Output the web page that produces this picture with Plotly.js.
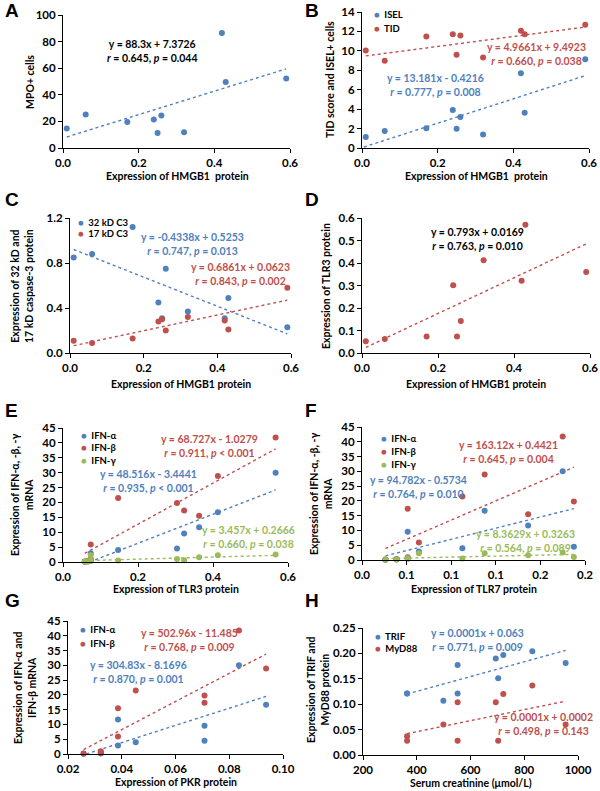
<!DOCTYPE html>
<html>
<head>
<meta charset="utf-8">
<script src="https://cdn.plot.ly/plotly-3.0.1.min.js"></script>
<style>html,body{margin:0;padding:0;background:#fff;}#chart{width:600px;height:791px;}</style>
</head>
<body>
<div id="chart"></div>
<script>
// ---------------- DATA ----------------
// Panels A-D: HMGB1 protein expression (per patient)
const hmgb1 = [0.01, 0.06, 0.17, 0.24, 0.25, 0.26, 0.32, 0.42, 0.43, 0.59];
const mpoCells = [14.6, 25.1, 19.6, 21.4, 11.3, 24.4, 11.8, 86.5, 49.7, 52.3];
const iselCells = [1.14, 1.76, 2.03, 3.9, 1.97, 3.2, 1.38, 7.69, 3.62, 9.14];
const tidScore = [10.03, 8.97, 11.48, 11.72, 9.59, 11.59, 9.31, 12.07, 11.72, 12.69];
const casp32 = [0.85, 0.88, 1.12, 0.45, 0.31, 0.75, 0.37, 0.31, 0.49, 0.23];
const casp17 = [0.11, 0.09, 0.13, 0.28, 0.30, 0.20, 0.32, 0.29, 0.21, 0.58];
const tlr3ByHmgb1 = [0.052, 0.062, 0.073, 0.301, 0.073, 0.142, 0.412, 0.321, 0.570, 0.36];

// Panels E-G: per patient (ordered by TLR3)
const tlr3 = [0.058, 0.066, 0.074, 0.074, 0.147, 0.304, 0.323, 0.363, 0.413, 0.567];
const tlr7 = [0.021, 0.031, 0.051, 0.041, 0.090, 0.190, 0.041, 0.149, 0.110, 0.180];
const pkr = [0.0258, 0.0322, 0.0386, 0.0322, 0.0452, 0.0708, 0.0708, 0.0386, 0.0937, 0.0836];
const ifnA = [0.1, 0.2, 2.9, 0.4, 4.0, 4.5, 9.6, 11.7, 16.7, 30.0];
const ifnB = [0.2, 0.3, 5.9, 0.9, 21.5, 19.8, 17.3, 15.5, 28.9, 41.8];
const ifnG = [0.1, 0.2, 2.3, 0.5, 0.5, 1.0, 0.6, 1.6, 2.3, 2.5];

// Panel H
const creatinine = [364, 364, 499, 552, 552, 694, 703, 722, 830, 954];
const trif = [0.121, 0.121, 0.107, 0.177, 0.121, 0.190, 0.151, 0.197, 0.204, 0.181];
const myd88 = [0.037, 0.028, 0.060, 0.104, 0.028, 0.104, 0.028, 0.120, 0.137, 0.060];

// Trendline end points
const trendA = {x: [0.01, 0.59], y: [8.3, 59.5]};
const trendIsel = {x: [0.005, 0.59], y: [0.1, 7.45]};
const trendTid = {x: [0.01, 0.59], y: [9.48, 12.45]};
const trend32 = {x: [0.01, 0.59], y: [0.92, 0.17]};
const trend17 = {x: [0.01, 0.59], y: [0.065, 0.47]};
const trendD = {x: [0.01, 0.59], y: [0.025, 0.485]};
const trendEa = {x: [0.071, 0.567], y: [0.0, 24.2]};
const trendEb = {x: [0.058, 0.567], y: [2.9, 38.0]};
const trendEg = {x: [0.058, 0.567], y: [0.47, 2.23]};
const trendFa = {x: [0.021, 0.190], y: [1.4, 17.4]};
const trendFb = {x: [0.021, 0.190], y: [3.9, 31.4]};
const trendFg = {x: [0.021, 0.190], y: [0.5, 1.9]};
const trendGa = {x: [0.0268, 0.0937], y: [0.0, 19.5]};
const trendGb = {x: [0.0258, 0.0937], y: [1.5, 33.8]};
const trendHt = {x: [364, 954], y: [0.12, 0.206]};
const trendHm = {x: [364, 954], y: [0.042, 0.106]};

// Equation texts: [equation, r, p-part]
const eqA = ["y = 88.3x + 7.3726", "0.645", "= 0.044"];
const eqBisel = ["y = 13.181x - 0.4216", "0.777", "= 0.008"];
const eqBtid = ["y = 4.9661x + 9.4923", "0.660", "= 0.038"];
const eqC32 = ["y = -0.4338x + 0.5253", "0.747", "= 0.013"];
const eqC17 = ["y = 0.6861x + 0.0623", "0.843", "= 0.002"];
const eqD = ["y = 0.793x + 0.0169", "0.763", "= 0.010"];
const eqEa = ["y = 48.516x - 3.4441", "0.935", "< 0.001"];
const eqEb = ["y = 68.727x - 1.0279", "0.911", "< 0.001"];
const eqEg = ["y = 3.457x + 0.2666", "0.660", "= 0.038"];
const eqFa = ["y = 94.782x - 0.5734", "0.764", "= 0.010"];
const eqFb = ["y = 163.12x + 0.4421", "0.645", "= 0.004"];
const eqFg = ["y = 8.3629x + 0.3263", "0.564", "= 0.089"];
const eqGa = ["y = 304.83x - 8.1696", "0.870", "= 0.001"];
const eqGb = ["y = 502.96x - 11.485", "0.768", "= 0.009"];
const eqHt = ["y = 0.0001x + 0.063", "0.771", "= 0.009"];
const eqHm = ["y = 0.0001x + 0.0002", "0.498", "= 0.143"];

const tlr7TickVals = [0, 0.04, 0.08, 0.12, 0.16, 0.20];
const tlr7TickText = ["0.0", "0.1", "0.1", "0.1", "0.2", "0.2"];

// ---------------- STYLE ----------------
const BLUE = "#4F81BD", RED = "#C0504D", GREEN = "#9BBB59";
const FONT = "Lato, 'Open Sans', sans-serif";
const W = 600, H = 791;
const xd = (a, b) => [a / W, b / W];
const yd = (top, bot) => [1 - bot / H, 1 - top / H];

const traces = [];
function pts(ax, x, y, color, name) {
  traces.push({type: "scatter", mode: "markers", x: x, y: y, name: name,
    xaxis: "x" + ax, yaxis: "y" + ax, showlegend: false,
    marker: {color: color, size: 6}, cliponaxis: false});
}
function trend(ax, t, color) {
  traces.push({type: "scatter", mode: "lines", x: t.x, y: t.y,
    xaxis: "x" + ax, yaxis: "y" + ax, showlegend: false, hoverinfo: "skip",
    line: {color: color, width: 1.4, dash: "dot"}});
}

pts("", hmgb1, mpoCells, BLUE, "MPO+ cells"); trend("", trendA, BLUE);
pts("2", hmgb1, iselCells, BLUE, "ISEL"); pts("2", hmgb1, tidScore, RED, "TID");
trend("2", trendIsel, BLUE); trend("2", trendTid, RED);
pts("3", hmgb1, casp32, BLUE, "32 kD C3"); pts("3", hmgb1, casp17, RED, "17 kD C3");
trend("3", trend32, BLUE); trend("3", trend17, RED);
pts("4", hmgb1, tlr3ByHmgb1, RED, "TLR3"); trend("4", trendD, RED);
trend("5", trendEa, BLUE); trend("5", trendEb, RED); trend("5", trendEg, GREEN);
pts("5", tlr3, ifnA, BLUE, "IFN-α"); pts("5", tlr3, ifnB, RED, "IFN-β"); pts("5", tlr3, ifnG, GREEN, "IFN-γ");
trend("6", trendFa, BLUE); trend("6", trendFb, RED); trend("6", trendFg, GREEN);
pts("6", tlr7, ifnA, BLUE, "IFN-α"); pts("6", tlr7, ifnB, RED, "IFN-β"); pts("6", tlr7, ifnG, GREEN, "IFN-γ");
trend("7", trendGa, BLUE); trend("7", trendGb, RED);
pts("7", pkr, ifnA, BLUE, "IFN-α"); pts("7", pkr, ifnB, RED, "IFN-β");
trend("8", trendHt, BLUE); trend("8", trendHm, RED);
pts("8", creatinine, trif, BLUE, "TRIF"); pts("8", creatinine, myd88, RED, "MyD88");

const layout = {
  width: W, height: H, margin: {l: 0, r: 0, t: 0, b: 0},
  paper_bgcolor: "#fff", plot_bgcolor: "#fff",
  font: {family: FONT, color: "#000", size: 11},
  showlegend: false, annotations: []
};

function axisPair(n, dx, dy, xr, yr, xextra, yextra) {
  const base = {showgrid: false, zeroline: false, showline: true, linecolor: "#000", linewidth: 1,
    ticks: "outside", ticklen: 4, tickcolor: "#000", tickwidth: 1,
    tickfont: {family: FONT, size: 11.5, color: "#000", weight: "bold"}, fixedrange: true};
  const xn = "xaxis" + (n === 1 ? "" : n), yn = "yaxis" + (n === 1 ? "" : n);
  const id = n === 1 ? "" : String(n);
  layout[xn] = Object.assign({}, base, {domain: dx, range: xr, anchor: "y" + id}, xextra);
  layout[yn] = Object.assign({}, base, {domain: dy, range: yr, anchor: "x" + id}, yextra);
}
axisPair(1, xd(63, 290), yd(15, 148), [0, 0.6], [0, 100], {dtick: 0.2, tickformat: ".1f"}, {dtick: 20});
axisPair(2, xd(362, 589), yd(12, 148), [0, 0.6], [0, 14], {dtick: 0.2, tickformat: ".1f"}, {dtick: 2});
axisPair(3, xd(70, 291), yd(218, 353), [0, 0.6], [0, 1.2], {dtick: 0.2, tickformat: ".1f"}, {dtick: 0.4, tickformat: ".1f"});
axisPair(4, xd(362, 590), yd(218, 353), [0, 0.6], [0, 0.6], {dtick: 0.2, tickformat: ".1f"}, {dtick: 0.1, tickformat: ".1f"});
axisPair(5, xd(63, 288), yd(428, 562), [0, 0.6], [0, 45], {dtick: 0.2, tickformat: ".1f"}, {dtick: 5});
axisPair(6, xd(362, 585), yd(427, 560), [0, 0.2], [0, 45], {tickvals: tlr7TickVals, ticktext: tlr7TickText}, {dtick: 5});
axisPair(7, xd(68, 283), yd(621, 754), [0.02, 0.10], [0, 45], {dtick: 0.02, tickformat: ".2f"}, {dtick: 5});
axisPair(8, xd(363, 578), yd(628, 755), [200, 1000], [0, 0.25], {dtick: 200}, {dtick: 0.05, tickformat: ".2f"});

function ann(x, y, text, opts) {
  layout.annotations.push(Object.assign({xref: "paper", yref: "paper", x: x / W, y: 1 - y / H,
    text: text, showarrow: false, xanchor: "center", yanchor: "middle",
    font: {family: FONT, size: 10.5, color: "#000", weight: "bold"}}, opts || {}));
}
// panel letters
const letters = [["A", 3, 10], ["B", 303, 10], ["C", 3, 200], ["D", 303, 200], ["E", 3, 410], ["F", 303, 410], ["G", 3, 600], ["H", 303, 600]];
letters.forEach(l => ann(l[1], l[2], l[0], {xanchor: "left", font: {family: "'Liberation Sans', Arial, sans-serif", size: 19, color: "#000", weight: "bold"}}));

// x-axis titles
ann(177, 176, "Expression of HMGB1  protein");
ann(476, 176, "Expression of HMGB1  protein");
ann(181, 384, "Expression of HMGB1 protein");
ann(476, 384, "Expression of HMGB1 protein");
ann(176, 589, "Expression of TLR3 protein");
ann(474, 589, "Expression of TLR7 protein");
ann(176, 782, "Expression of PKR protein");
ann(471, 783, "Serum creatinine (μmol/L)");
// y-axis titles
const yt = {textangle: -90};
ann(30, 82, "MPO+ cells", yt);
ann(330, 80, "TID score and ISEL+ cells", yt);
ann(22, 286, "Expression of 32 kD and<br>17 kD caspase-3 protein", yt);
ann(326, 286, "Expression of TLR3 protein", yt);
ann(22, 495, "Expression of IFN-α, -β, -γ<br>mRNA", yt);
ann(321, 494, "Expression of IFN-α, -β, -γ<br>mRNA", yt);
ann(25, 688, "Expression of IFN-α and<br>IFN-β mRNA", yt);
ann(318, 690, "Expression of TRIF and<br>MyD88 protein", yt);

// equations
function eq(x, y, e, color) {
  ann(x, y, e[0] + "<br><i>r</i> = " + e[1] + ", <i>p</i> " + e[2],
    {font: {family: FONT, size: 10.5, color: color, weight: "bold"}});
}
eq(152, 51, eqA, "#000");
eq(536, 54, eqBtid, RED);
eq(435, 85, eqBisel, BLUE);
eq(192, 244, eqC32, BLUE);
eq(240, 274, eqC17, RED);
eq(477, 239, eqD, "#000");
eq(209, 446, eqEb, RED);
eq(148, 481, eqEa, BLUE);
eq(248, 537, eqEg, GREEN);
eq(508, 452, eqFb, RED);
eq(418, 487, eqFa, BLUE);
eq(525, 541, eqFg, GREEN);
eq(189, 640, eqGb, RED);
eq(138, 672, eqGa, BLUE);
eq(477, 640, eqHt, BLUE);
eq(543, 724, eqHm, RED);

// legends
function leg(x, y, items) {
  items.forEach((it, i) => {
    ann(x, y + i * it[2], "<span style='color:" + it[1] + "'>●</span>  " + it[0],
      {xanchor: "left", font: {family: FONT, size: 9.5, color: "#000", weight: "bold"}});
  });
}
leg(372, 15, [["ISEL", BLUE, 13], ["TID", RED, 13]]);
leg(76, 222, [["32 kD C3", BLUE, 11], ["17 kD C3", RED, 11]]);
leg(79, 435, [["IFN-α", BLUE, 12.5], ["IFN-β", RED, 12.5], ["IFN-γ", GREEN, 12.5]]);
leg(379, 438, [["IFN-α", BLUE, 13], ["IFN-β", RED, 13], ["IFN-γ", GREEN, 13]]);
leg(78, 629, [["IFN-α", BLUE, 14], ["IFN-β", RED, 14]]);
leg(373, 636, [["TRIF", BLUE, 12.5], ["MyD88", RED, 12.5]]);

Plotly.newPlot("chart", traces, layout, {staticPlot: true, displayModeBar: false});
</script>
</body>
</html>
